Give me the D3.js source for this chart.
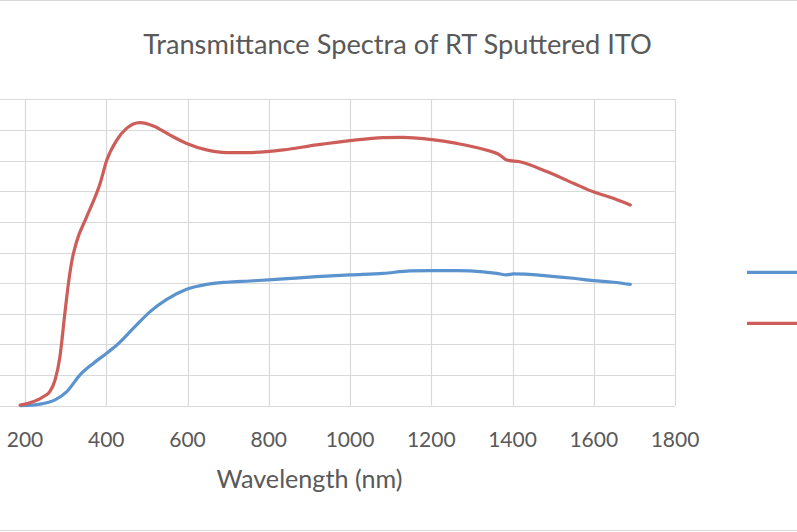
<!DOCTYPE html>
<html><head><meta charset="utf-8">
<script src="https://cdn.jsdelivr.net/npm/d3@7/dist/d3.min.js"></script>
<style>body{margin:0;background:#fff}svg{display:block}</style>
</head><body>
<svg id="c" width="797" height="532"></svg>
<script>
const title = "Transmittance Spectra of RT Sputtered ITO";
const xTitle = "Wavelength (nm)";
const xTicks = [0,200,400,600,800,1000,1200,1400,1600,1800];
const yTicks = [0,10,20,30,40,50,60,70,80,90,100];
const seriesNames = ["Blue sample","Red sample"];
const blueWave = [190,237,274,303,335,368,401,426,467,508,549,598,647,696,754,836,918,1000,1082,1148,1197,1263,1328,1361,1386,1402,1484,1550,1599,1648,1690];
const blueVal  = [0,0.5,1.9,4.6,10,13.8,17.1,19.8,25.3,30.7,34.7,38,39.6,40.3,40.7,41.4,42.1,42.7,43.2,44,44.1,44.1,43.7,43.2,42.7,43,42.4,41.6,40.8,40.3,39.6];
const redWave = [188,245,261,274,286,298,307,315,327,352,385,401,426,450,483,516,557,598,647,696,746,836,918,1000,1082,1131,1197,1263,1328,1369,1386,1418,1484,1550,1599,1648,1690];
const redVal  = [0.2,2.9,4.6,8.4,16,30,40,47,53.5,61.7,72.6,80,86.7,90.5,92.4,91.3,88.3,85.6,83.5,82.6,82.6,83.5,85.1,86.5,87.5,87.6,86.9,85.6,83.7,81.8,80.2,79.6,76.4,72.6,69.8,67.7,65.5];
const colors = ["#5B93CF","#CD5D58"];

const svg = d3.select("#c");
const x = d3.scaleLinear().domain([0,1800]).range([-56.25,675]);
const y = d3.scaleLinear().domain([0,100]).range([405.7,99.3]);
const textCol = "#595959";
const font = "Lato, 'Open Sans', sans-serif";

// chart border
svg.append("rect").attr("x",-10).attr("y",0.5).attr("width",830).attr("height",530)
  .attr("fill","none").attr("stroke","#d9d9d9");

// gridlines
svg.append("g").selectAll("line").data(yTicks).join("line")
  .attr("x1",x(0)).attr("x2",x(1800)).attr("y1",d=>Math.round(y(d))+0.5).attr("y2",d=>Math.round(y(d))+0.5)
  .attr("stroke","#d9d9d9").attr("stroke-width",1.2);
svg.append("g").selectAll("line").data(xTicks).join("line")
  .attr("x1",d=>Math.round(x(d))+0.5).attr("x2",d=>Math.round(x(d))+0.5).attr("y1",y(100)).attr("y2",y(0))
  .attr("stroke","#d9d9d9").attr("stroke-width",1.2);

// x axis labels
const xa = d3.axisBottom(x).tickValues(xTicks.slice(1)).tickSize(0).tickPadding(0);
const gx = svg.append("g").attr("transform","translate(0,0)");
gx.selectAll("text").data(xTicks.slice(1)).join("text")
  .attr("x",d=>x(d)).attr("y",446.5).attr("text-anchor","middle")
  .attr("font-family",font).attr("font-size",21).attr("fill",textCol).text(d=>d);

// series
const line = d3.line().x(d=>x(d[0])).y(d=>y(d[1])).curve(d3.curveMonotoneX);
const data = [d3.zip(blueWave,blueVal), d3.zip(redWave,redVal)];
svg.append("g").selectAll("path").data(data).join("path")
  .attr("d",line).attr("fill","none").attr("stroke",(d,i)=>colors[i])
  .attr("stroke-width",3.2).attr("stroke-linejoin","round").attr("stroke-linecap","round");

// legend (labels fall outside the visible crop)
svg.append("g").selectAll("line").data(seriesNames).join("line")
  .attr("x1",747).attr("x2",830).attr("y1",(d,i)=>272.3+i*51).attr("y2",(d,i)=>272.3+i*51)
  .attr("stroke",(d,i)=>colors[i]).attr("stroke-width",3.2);

// titles
function fit(sel,target){const n=sel.node();const w=n.getComputedTextLength();const fs=+sel.attr("font-size");sel.attr("font-size",fs*target/w);}
const t = svg.append("text").attr("x",397.5).attr("y",54.3).attr("text-anchor","middle")
  .attr("font-family",font).attr("font-size",24).attr("fill",textCol).text(title);
fit(t,509);
const xt = svg.append("text").attr("x",309.4).attr("y",488.3).attr("text-anchor","middle")
  .attr("font-family",font).attr("font-size",22).attr("fill",textCol).text(xTitle);
fit(xt,186);
</script>
</body></html>
